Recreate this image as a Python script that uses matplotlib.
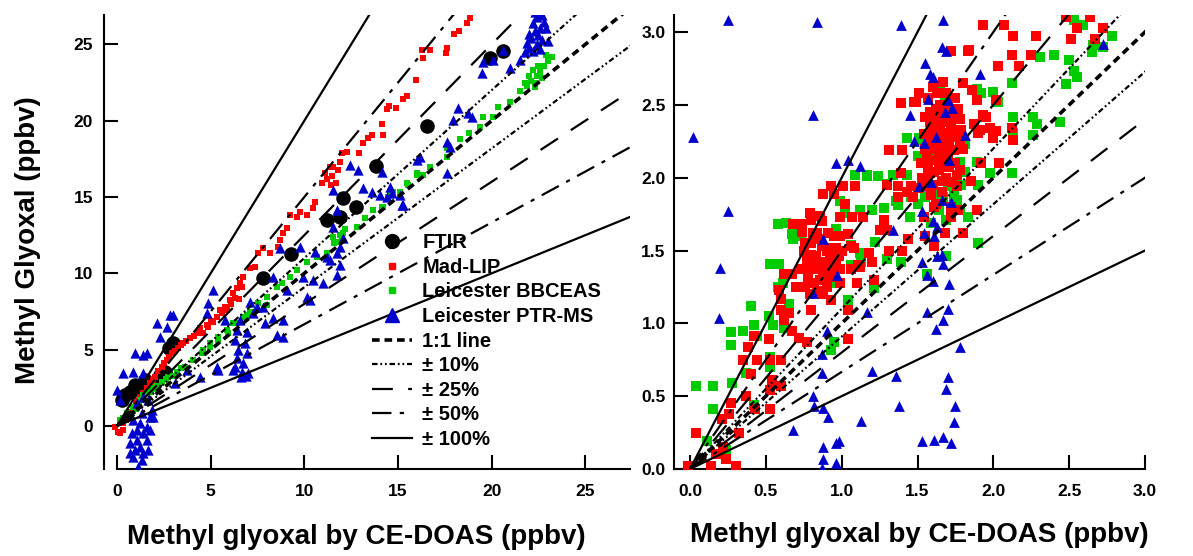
import matplotlib
matplotlib.use("Agg")
import matplotlib.pyplot as plt
from matplotlib.lines import Line2D
import numpy as np

plt.rcParams["font.family"] = ["Liberation Sans", "DejaVu Sans"]
plt.rcParams["font.weight"] = "bold"
plt.rcParams["lines.scale_dashes"] = False

# ---------------- data ----------------
# left panel: full range
ftir_left = [(0.27, 1.7), (0.43, 2.03), (0.69, 2.23), (0.96, 2.69), (1.23, 2.49), (1.5, 3.0),
             (1.76, 2.69), (2.03, 2.82), (2.3, 3.34), (2.56, 3.54), (2.8, 5.1), (2.99, 5.44),
             (7.8, 9.7), (9.29, 11.27), (11.2, 13.5), (11.91, 13.7), (12.07, 14.94), (12.76, 14.35),
             (13.81, 17.06), (16.55, 19.66), (19.9, 24.1), (20.6, 24.6)]

madlip_left = [(-0.11, -0.04), (0.07, -0.37), (0.16, -0.46), (0.34, -0.26), (0.3, 0.2), (0.5, 0.4),
               (0.6, 0.61), (0.75, 0.9), (0.87, 1.26), (1.0, 1.5), (1.14, 1.7), (1.25, 1.9), (1.4, 2.14),
               (1.6, 2.5), (1.76, 2.8), (1.9, 3.0), (2.03, 3.23), (2.2, 3.6), (2.39, 3.89), (2.5, 4.1),
               (2.65, 4.33), (2.8, 4.5), (2.92, 4.76), (3.1, 4.9), (3.27, 5.09), (3.4, 5.3), (3.54, 5.42),
               (3.7, 5.6), (3.9, 5.75), (4.1, 5.9), (4.25, 6.07), (4.43, 6.4), (4.61, 6.07), (4.79, 6.62),
               (4.87, 6.51), (5.0, 6.9), (5.14, 6.83), (5.32, 7.16), (5.5, 7.6), (5.6, 7.4), (5.77, 7.82),
               (5.86, 7.6), (6.03, 8.26), (6.1, 8.0), (6.21, 8.69), (6.3, 8.4), (6.39, 9.02), (6.5, 8.3),
               (6.57, 9.35), (6.65, 9.1), (6.74, 9.78), (7.1, 10.33), (7.37, 10.44), (7.54, 11.32),
               (7.81, 11.64), (8.17, 11.32), (8.61, 11.75), (8.7, 12.19), (8.88, 12.63), (9.06, 12.95),
               (9.24, 13.83), (9.59, 13.7), (9.77, 14.04), (10.13, 13.83), (10.48, 14.27), (10.57, 14.7),
               (10.93, 15.9), (11.1, 16.56), (11.2, 16.2), (11.37, 17.0), (11.4, 15.8), (11.5, 16.4),
               (11.55, 17.0), (11.7, 15.9), (11.82, 16.78), (11.91, 17.33), (12.0, 17.87), (12.26, 17.98),
               (12.94, 17.87), (13.15, 18.53), (13.42, 18.85), (13.6, 19.07), (14.13, 19.79), (14.18, 19.07),
               (14.43, 20.75), (14.54, 20.97), (14.9, 20.82), (15.25, 21.41), (15.5, 21.62), (15.96, 22.67),
               (16.27, 24.64), (16.32, 24.1), (16.71, 24.64), (17.57, 24.42), (17.6, 24.75), (17.99, 25.69),
               (18.28, 25.9), (18.67, 26.39), (18.85, 26.72)]

bbceas_left = [(0.16, 0.39), (0.3, 0.5), (0.52, 0.83), (0.87, 1.26), (1.0, 1.1), (1.2, 1.4), (1.23, 1.7),
               (1.4, 2.0), (1.59, 2.14), (1.8, 2.2), (1.94, 2.47), (2.0, 2.4), (2.1, 2.6), (2.39, 2.9),
               (2.6, 3.1), (2.74, 3.23), (3.0, 3.3), (3.19, 3.56), (3.4, 3.8), (3.63, 3.89), (4.07, 4.33),
               (4.52, 4.76), (4.61, 4.98), (4.97, 5.2), (4.97, 5.42), (5.41, 5.64), (5.41, 5.85), (5.86, 6.29),
               (5.94, 6.07), (6.21, 6.73), (6.39, 6.73), (6.74, 7.16), (6.92, 7.27), (7.1, 7.49), (7.46, 7.6),
               (7.54, 8.04), (7.99, 8.47), (7.99, 7.93), (8.53, 9.13), (8.79, 9.35), (9.24, 9.78),
               (9.59, 10.22), (10.13, 10.77), (10.66, 11.09), (11.2, 11.32), (11.55, 12.41), (11.6, 12.0),
               (11.73, 12.08), (11.9, 12.5), (12.0, 12.2), (12.08, 12.63), (12.2, 12.9), (12.8, 13.06),
               (13.24, 13.61), (13.69, 14.15), (14.13, 14.37), (14.22, 14.37), (14.49, 15.03), (14.58, 15.24),
               (14.75, 15.35), (15.11, 15.35), (15.47, 15.9), (15.55, 15.79), (16.0, 16.45), (16.0, 16.56),
               (16.35, 16.45), (16.71, 17.0), (17.6, 17.65), (17.6, 18.2), (18.31, 18.79), (18.81, 19.22),
               (19.38, 19.61), (19.52, 20.23), (20.09, 20.27), (20.36, 20.92), (20.98, 21.25), (21.52, 21.97),
               (21.8, 22.5), (21.9, 22.3), (22.0, 22.9), (22.1, 22.6), (22.2, 23.3), (22.3, 22.5), (22.3, 22.2),
               (22.4, 22.9), (22.5, 23.6), (22.6, 23.2), (22.7, 22.8), (22.8, 23.6), (22.9, 24.3), (23.0, 23.9),
               (23.2, 24.2)]

ptrms_left = [(21.8, 24.5), (22.0, 24.8), (22.2, 24.6), (22.4, 25.0), (22.1, 25.4), (22.5, 25.6),
              (22.3, 25.9), (22.7, 25.3), (22.6, 26.1), (22.2, 26.4), (22.8, 26.5), (22.4, 26.8),
              (22.9, 26.1), (22.0, 25.7), (23.0, 25.2), (22.6, 24.7), (22.5, 27.0), (22.3, 27.1),
              (22.7, 26.9), (21.9, 25.1),
              (20.62, 24.64), (20.09, 23.98), (19.56, 23.87), (19.47, 23.11), (21.52, 23.98), (20.98, 23.44),
              (18.22, 20.82), (18.76, 20.49), (18.94, 20.27), (17.96, 20.05), (17.6, 18.63), (17.78, 18.31),
              (16.18, 17.65), (16.0, 17.43), (17.6, 16.56), (14.13, 16.67), (15.29, 14.48), (14.67, 15.24),
              (14.4, 15.03), (12.44, 17.1), (12.88, 16.78), (13.15, 15.58), (13.6, 15.35), (14.04, 15.14),
              (14.58, 15.68), (15.11, 15.14), (15.2, 14.48), (11.55, 15.47), (11.73, 14.15), (11.55, 13.06),
              (12.08, 12.3), (11.91, 11.75), (11.73, 11.32), (11.37, 10.88), (11.91, 10.55), (11.73, 9.9),
              (11.2, 11.09), (10.57, 11.42), (10.48, 9.57), (11.02, 9.35), (9.77, 11.75), (9.95, 9.78),
              (10.13, 8.47), (9.06, 8.91), (8.34, 9.78), (8.88, 6.95), (8.53, 5.96), (7.9, 6.73),
              (7.46, 7.82), (7.1, 8.15), (5.77, 6.95), (5.14, 8.91), (4.87, 8.04), (4.79, 7.38),
              (8.7, 11.64), (10.3, 8.26), (8.34, 7.06), (8.88, 5.85),
              (6.39, 6.29), (6.92, 6.18), (6.3, 5.64), (6.83, 5.42), (6.48, 4.98), (6.92, 4.76), (6.39, 4.44),
              (6.74, 4.11), (6.3, 3.89), (6.66, 3.56), (7.01, 3.45), (6.21, 3.67), (6.57, 6.95), (7.28, 7.38),
              (7.81, 7.82), (6.6, 3.2), (6.9, 3.3),
              (2.83, 7.27), (2.65, 6.51), (2.3, 5.85), (0.96, 4.76), (1.59, 4.76), (0.87, 3.56), (1.4, 3.45),
              (0.34, 3.45), (0.0, 2.36), (0.16, 1.7), (3.01, 7.27), (2.12, 6.73), (1.4, 4.65), (3.1, 2.8),
              (3.72, 3.67), (4.43, 3.23), (5.32, 3.89), (5.41, 3.67),
              (0.78, -0.48), (1.05, -0.92), (1.23, -1.36), (0.87, -2.01), (1.14, -2.67), (1.4, -1.79),
              (1.59, -0.92), (1.76, -0.26), (1.76, 0.61), (1.85, 1.05), (1.59, -0.04), (1.23, 0.18),
              (0.87, 0.39), (0.69, -1.14), (1.4, -0.48), (1.67, -1.57), (0.96, -1.57), (1.32, -2.23),
              (0.69, -1.79), (1.05, -0.26), (1.32, 0.83), (1.05, 1.49), (1.4, 1.92), (1.67, 1.7),
              (1.94, 0.61), (1.2, -2.9)]

# right panel: zoom on 0-3 ppbv
madlip_right = [(1.84, 2.88), (1.67, 2.66), (1.8, 2.65), (1.86, 2.6), (1.63, 2.58), (1.48, 2.52), (1.62, 2.47),
                (1.74, 2.45), (1.78, 2.4), (1.87, 2.37), (1.93, 2.43), (1.91, 2.33), (1.59, 2.33), (1.65, 2.35),
                (1.69, 2.28), (1.78, 2.26), (1.6, 2.21), (1.74, 2.19), (1.64, 2.16), (1.4, 2.19), (1.57, 2.08),
                (1.67, 2.07), (1.78, 2.05), (1.57, 2.01), (1.69, 2.0), (1.85, 1.98), (1.56, 1.94), (1.76, 1.94),
                (1.46, 1.94), (1.43, 1.9), (1.37, 1.87), (1.47, 1.87), (1.62, 1.82), (1.72, 1.8), (1.89, 1.78),
                (1.54, 1.73), (1.72, 1.73), (1.8, 1.62), (1.55, 1.6), (1.25, 1.64), (1.3, 1.64), (1.28, 1.71),
                (1.4, 1.5), (1.18, 1.48), (0.95, 1.89), (1.01, 1.94), (1.09, 1.94), (1.02, 1.82), (1.14, 1.73),
                (0.86, 1.74), (0.87, 1.7), (0.74, 1.68), (0.95, 1.6), (1.04, 1.61), (0.81, 1.62), (0.8, 1.55),
                (0.9, 1.5), (1.0, 1.5), (1.06, 1.53), (0.96, 1.44), (0.89, 1.41), (0.84, 1.37), (0.99, 1.37),
                (1.06, 1.37), (1.12, 1.39), (0.92, 1.32), (0.67, 1.34),
                (2.07, 3.05), (2.28, 2.97), (2.64, 3.1), (2.72, 3.03), (2.67, 2.95), (2.25, 2.84), (2.17, 2.77),
                (1.83, 2.87), (1.49, 2.52), (2.02, 2.53), (1.95, 2.42), (2.02, 2.32), (2.12, 2.34), (2.13, 2.26),
                (2.04, 2.1), (1.64, 2.58),
                (0.04, 0.25), (-0.01, 0.02), (0.14, 0.02), (0.3, 0.02), (0.24, 0.07), (0.17, 0.1), (0.27, 0.45),
                (0.26, 0.38), (0.21, 0.34), (0.37, 0.5), (0.4, 0.65), (0.35, 0.75), (0.44, 0.75), (0.53, 0.75),
                (0.6, 0.75), (0.38, 0.84), (0.42, 0.91), (0.52, 0.89), (0.54, 0.61), (0.6, 0.57), (0.53, 0.54),
                (0.43, 0.41), (0.53, 0.41), (0.32, 0.25), (0.22, 0.15), (0.65, 1.07), (0.6, 1.09), (0.62, 1.02),
                (0.67, 0.95), (0.72, 0.9), (0.77, 0.87), (0.76, 1.25), (0.8, 1.09), (0.81, 1.37), (0.88, 1.34),
                (0.99, 1.28), (0.93, 1.16), (1.04, 1.09), (1.04, 0.89), (1.1, 1.28), (1.21, 1.3), (0.86, 1.42),
                (0.98, 1.46), (1.11, 1.4), (1.2, 1.42), (0.8, 1.47), (0.59, 1.23), (0.6, 1.17),
                (0.88, 1.89), (0.93, 1.94), (0.68, 1.68), (0.79, 1.76), (0.8, 1.71), (0.99, 1.73), (1.07, 1.73),
                (0.74, 1.63), (0.84, 1.62), (0.9, 1.52), (0.99, 1.6), (1.08, 1.52), (0.75, 1.5), (0.81, 1.41),
                (0.95, 1.39), (0.62, 1.34), (0.73, 1.37), (1.3, 1.95), (1.31, 1.5), (1.39, 2.03), (1.37, 1.94),
                (1.44, 1.58), (1.92, 2.1), (1.9, 2.31), (1.93, 3.05), (2.12, 2.84), (2.13, 2.97), (2.03, 2.77),
                (2.51, 2.95), (2.55, 3.03), (2.48, 3.1), (1.89, 2.53), (1.98, 2.34), (2.0, 2.27), (1.72, 2.87),
                (1.51, 2.58), (1.39, 2.51), (1.31, 2.19), (1.58, 2.03), (1.5, 1.93), (1.61, 1.8), (1.68, 1.62),
                (1.61, 1.53), (1.77, 1.78), (1.73, 1.97),
                (1.62, 2.4), (1.68, 2.45), (1.72, 2.35), (1.66, 2.25), (1.7, 2.15), (1.6, 2.3), (1.75, 2.55),
                (1.55, 2.2), (1.62, 2.12), (1.72, 2.28), (1.68, 2.38), (1.58, 2.45), (1.64, 2.05), (1.52, 2.1),
                (1.8, 2.2), (1.75, 2.1), (1.6, 1.95), (1.66, 1.9), (1.7, 2.5), (1.57, 2.55),
                (1.54, 2.3), (1.58, 2.38), (1.63, 2.28), (1.67, 2.18), (1.71, 2.22), (1.74, 2.32), (1.77, 2.47),
                (1.65, 2.5), (1.6, 2.62), (1.69, 2.58), (1.56, 2.14), (1.61, 2.04), (1.66, 1.98), (1.71, 2.07),
                (1.76, 2.02), (1.53, 2.0), (1.59, 1.88), (1.64, 2.42), (1.73, 2.42), (1.58, 2.26), (1.63, 2.2),
                (1.68, 2.31), (1.55, 2.42), (1.79, 2.33), (1.66, 2.12),
                (0.78, 1.3), (0.82, 1.28), (0.86, 1.3), (0.9, 1.25), (0.79, 1.2), (0.84, 1.22), (0.77, 1.43),
                (0.93, 1.35), (0.7, 1.25), (0.88, 1.2), (0.83, 1.46), (0.87, 1.53), (0.92, 1.45), (0.78, 1.36),
                (0.85, 1.58), (0.91, 1.62), (0.76, 1.55), (0.96, 1.52)]

bbceas_right = [(0.58, 1.68), (0.53, 1.41), (0.67, 1.61), (0.68, 1.58), (0.99, 1.84), (1.09, 2.02), (1.17, 2.01),
                (1.12, 1.78), (1.2, 1.78), (1.34, 2.02), (1.3, 1.96), (1.43, 2.27), (1.46, 1.87), (1.45, 1.73),
                (1.36, 1.84), (1.3, 1.44), (1.5, 2.15), (1.58, 1.89), (1.65, 2.63), (1.68, 2.56), (1.78, 2.11),
                (1.79, 1.95), (1.74, 1.84), (1.81, 2.23), (1.89, 2.61), (1.92, 2.58), (2.0, 2.59), (2.03, 2.52),
                (2.12, 2.65), (2.13, 2.42), (2.13, 2.31), (2.29, 2.37), (1.98, 2.03), (1.9, 1.55), (1.69, 1.46),
                (2.31, 2.83), (2.4, 2.84), (2.5, 2.81), (2.48, 2.64), (2.53, 2.73), (2.55, 2.69), (2.53, 3.08),
                (2.59, 3.05), (2.65, 2.86), (2.66, 2.91), (2.78, 2.97), (2.72, 2.9),
                (1.24, 2.01), (1.17, 2.02), (1.53, 2.26), (1.43, 2.02), (1.37, 1.81), (1.5, 1.82), (1.55, 1.87),
                (1.63, 1.89), (1.67, 1.87), (1.74, 1.89), (1.78, 1.78), (1.69, 1.71), (1.64, 1.78), (1.59, 1.69),
                (1.56, 1.34), (1.39, 1.42), (1.2, 1.78), (1.28, 1.79), (1.02, 1.76), (0.96, 1.65), (1.06, 1.54),
                (1.12, 1.48), (1.22, 1.56), (1.13, 1.42), (0.73, 1.6), (0.63, 1.69), (1.54, 2.15), (1.89, 2.11),
                (1.9, 1.95), (1.7, 1.94), (1.59, 2.15), (1.76, 1.85), (1.83, 1.73), (1.81, 2.04), (1.69, 2.31),
                (1.51, 2.27), (1.58, 2.17), (2.44, 2.38), (2.26, 2.42), (2.26, 2.29), (2.12, 2.03),
                (0.59, 1.41), (0.4, 1.12), (0.42, 0.99), (0.35, 0.95), (0.27, 0.94), (0.27, 0.85), (0.44, 0.91),
                (0.52, 1.05), (0.62, 0.97), (0.55, 0.99), (0.65, 1.13), (0.61, 1.28), (0.58, 1.25), (0.53, 0.7),
                (0.53, 0.77), (0.37, 0.66), (0.04, 0.57), (0.15, 0.57), (0.28, 0.59), (0.15, 0.41), (0.11, 0.19),
                (0.42, 0.44), (0.24, 0.13), (0.93, 0.82), (0.95, 0.87), (0.88, 1.22), (0.95, 1.28), (1.06, 1.4),
                (1.21, 1.24), (1.04, 1.16)]

ptrms_right = [(0.02, 2.28), (0.25, 3.08), (0.84, 3.07), (1.39, 3.05), (1.67, 3.08), (0.25, 1.77), (0.2, 1.38),
               (0.81, 2.43), (0.96, 2.1), (1.04, 2.12), (1.12, 2.08), (0.88, 1.58), (0.97, 1.33), (1.34, 1.64),
               (1.55, 2.79), (1.58, 2.71), (1.6, 2.69), (1.66, 2.9), (1.69, 2.87), (1.57, 2.54), (1.45, 2.43),
               (1.68, 2.45), (1.73, 2.48), (1.7, 2.53), (1.62, 2.28), (1.48, 2.25), (1.54, 2.24), (1.81, 2.29),
               (1.91, 2.71), (1.71, 2.12), (1.51, 1.94), (1.59, 1.97), (1.66, 1.85), (1.72, 1.83), (1.53, 1.77),
               (1.6, 1.7), (1.63, 1.66), (1.54, 1.62), (1.61, 1.6), (1.63, 1.46), (1.67, 1.41), (1.66, 1.47),
               (1.53, 1.42), (1.56, 1.33), (2.72, 2.92),
               (0.19, 1.04), (0.81, 1.21), (1.17, 1.08), (1.56, 1.08), (1.62, 0.96), (1.67, 1.02), (1.7, 1.1),
               (1.78, 0.84), (1.71, 1.27), (1.6, 1.29), (0.87, 0.79), (0.87, 0.66), (1.2, 0.67), (1.36, 0.64),
               (1.38, 0.43), (0.81, 0.5), (0.82, 0.43), (0.88, 0.42), (0.91, 0.36), (1.13, 0.33), (0.68, 0.27),
               (0.88, 0.15), (0.88, 0.07), (0.87, 0.01), (0.96, 0.04), (0.96, 0.18), (0.98, 0.19), (1.7, 0.63),
               (1.69, 0.55), (1.75, 0.43), (1.74, 0.32), (1.72, 0.18), (1.53, 0.19), (1.61, 0.2), (1.67, 0.22),
               (0.9, 0.95)]

# reference lines: label, slopes through the origin
ref_lines = [("1:1 line", [1.0]),
             ("\u00b1 10%", [1.1, 1 / 1.1]),
             ("\u00b1 25%", [1.25, 1 / 1.25]),
             ("\u00b1 50%", [1.5, 1 / 1.5]),
             ("\u00b1 100%", [2.0, 0.5])]

# ---------------- styles ----------------
RED, GREEN, BLUE = "#ff0000", "#00cc00", "#0000cc"
line_styles = {
    "1:1 line": dict(lw=2.6, dashes=(5.5, 3.5)),
    "\u00b1 10%": dict(lw=1.6, dashes=(4, 2, 1.3, 2, 1.3, 2)),
    "\u00b1 25%": dict(lw=1.6, dashes=(15, 11)),
    "\u00b1 50%": dict(lw=1.6, dashes=(14, 6, 3, 6)),
    "\u00b1 100%": dict(lw=1.6, ls="-"),
}

W, H = 1193, 556
fig = plt.figure(figsize=(W / 100, H / 100), dpi=100)


def px_axes(x0, x1, y0, y1):
    return fig.add_axes([x0 / W, 1 - y1 / H, (x1 - x0) / W, (y1 - y0) / H])


def draw_refs(ax, xmax):
    xs = np.array([0.0, xmax * 3])
    for name, slopes in ref_lines:
        for s in slopes:
            ax.plot(xs, s * xs, color="k", zorder=5, solid_capstyle="butt",
                    dash_capstyle="butt", **line_styles[name])


def style_axes(ax):
    for s in ("top", "right"):
        ax.spines[s].set_visible(False)
    for s in ("left", "bottom"):
        ax.spines[s].set_linewidth(1.5)
    ax.tick_params(direction="in", length=10, width=1.5, labelsize=12.5)
    for lab in ax.get_xticklabels() + ax.get_yticklabels():
        lab.set_fontweight("bold")


def xy(pts):
    a = np.array(pts)
    return a[:, 0], a[:, 1]


# ---------------- left panel ----------------
axL = px_axes(104, 630, 15, 469)
axL.set_xlim(-0.694, 27.39)
axL.set_ylim(-2.82, 26.93)
axL.scatter(*xy(ftir_left), s=110, marker="o", color="k", lw=0, zorder=2)
axL.scatter(*xy(madlip_left), s=20, marker="s", color=RED, lw=0, zorder=3)
axL.scatter(*xy(bbceas_left), s=20, marker="s", color=GREEN, lw=0, zorder=3)
axL.scatter(*xy(ptrms_left), s=55, marker="^", color=BLUE, lw=0, zorder=4)
draw_refs(axL, 28)
axL.set_xticks([0, 5, 10, 15, 20, 25])
axL.set_yticks([0, 5, 10, 15, 20, 25])
style_axes(axL)
axL.tick_params(axis="x", pad=11)
axL.tick_params(axis="y", pad=8)
axL.spines["bottom"].set_bounds(0, 27.39)

handles = [Line2D([], [], ls="none", marker="o", ms=10, color="k"),
           Line2D([], [], ls="none", marker="s", ms=4, color=RED),
           Line2D([], [], ls="none", marker="s", ms=4, color=GREEN),
           Line2D([], [], ls="none", marker="^", ms=10, color=BLUE)]
labels = ["FTIR", "Mad-LIP", "Leicester BBCEAS", "Leicester PTR-MS"]
for name, _ in ref_lines:
    handles.append(Line2D([], [], color="k", **line_styles[name]))
    labels.append(name)
axL.legend(handles, labels, loc="upper left", bbox_to_anchor=(372 / W, 1 - 233 / H),
           bbox_transform=fig.transFigure, frameon=False, prop=dict(size=14.5, weight="bold"),
           handlelength=2.0, handletextpad=0.5, labelspacing=0.28, borderpad=0,
           borderaxespad=0)

# ---------------- right panel ----------------
axR = px_axes(674, 1145, 15, 469)
axR.set_xlim(-0.1055, 3.0)
axR.set_ylim(0, 3.117)
axR.scatter(*xy(madlip_right), s=42, marker="s", color=RED, lw=0, zorder=3)
axR.scatter(*xy(bbceas_right), s=42, marker="s", color=GREEN, lw=0, zorder=2)
axR.scatter(*xy(ptrms_right), s=60, marker="^", color=BLUE, lw=0, zorder=4)
draw_refs(axR, 3.2)
axR.set_xticks(np.arange(0, 3.01, 0.5))
axR.set_yticks(np.arange(0, 3.01, 0.5))
axR.xaxis.set_major_formatter(matplotlib.ticker.FormatStrFormatter("%.1f"))
axR.yaxis.set_major_formatter(matplotlib.ticker.FormatStrFormatter("%.1f"))
style_axes(axR)
axR.tick_params(axis="x", pad=11)
axR.tick_params(axis="y", pad=6)

# ---------------- axis titles ----------------
fig.text(356 / W, 1 - 537 / H, "Methyl glyoxal by CE-DOAS (ppbv)", ha="center", va="center",
         fontsize=20, fontweight="bold")
fig.text(919 / W, 1 - 535 / H, "Methyl glyoxal by CE-DOAS (ppbv)", ha="center", va="center",
         fontsize=20, fontweight="bold")
fig.text(28 / W, 1 - 240 / H, "Methyl Glyoxal (ppbv)", ha="center", va="center",
         rotation=90, fontsize=20, fontweight="bold")

fig.savefig("out.png", dpi=100)
